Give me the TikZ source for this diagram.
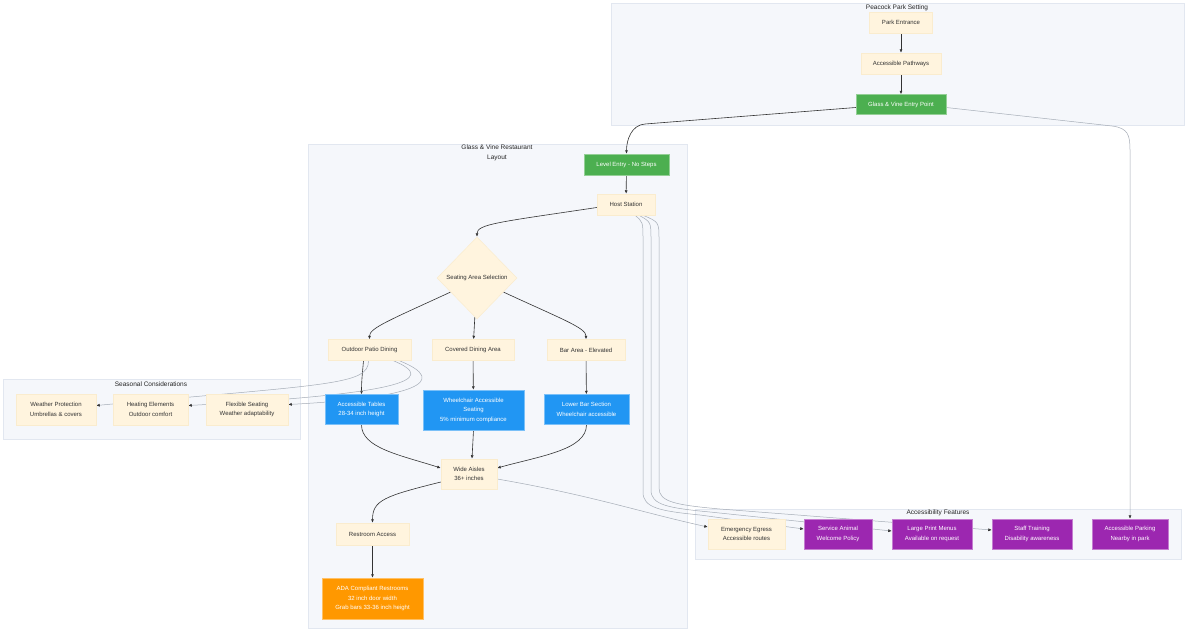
\documentclass[tikz,border=0pt]{standalone}
\usepackage{fontspec}
\setmainfont{Liberation Sans}
\usetikzlibrary{arrows.meta,shapes.geometric,backgrounds}
\definecolor{ParkCream}{RGB}{255,244,222}
\definecolor{ParkCreamLine}{RGB}{250,236,206}
\definecolor{ParkGreen}{RGB}{76,175,80}
\definecolor{ParkBlue}{RGB}{33,150,243}
\definecolor{ParkOrange}{RGB}{255,152,0}
\definecolor{ParkPurple}{RGB}{156,39,176}
\definecolor{ParkPanel}{RGB}{245,247,251}
\definecolor{ParkPanelLine}{RGB}{226,231,240}
\definecolor{ParkInk}{RGB}{51,51,51}
\definecolor{ParkGrey}{RGB}{165,172,182}
\pgfdeclarelayer{edgelayer}
\pgfsetlayers{background,edgelayer,main}

\begin{document}
\begin{tikzpicture}[x=1pt,y=-1pt]
  \tikzset{box/.style={rectangle,inner sep=0pt,align=center,line width=0.5pt,font=\fontsize{6}{9.5}\selectfont},
    wh/.style 2 args={minimum width=#1,minimum height=#2},
    cream/.style={box,fill=ParkCream,draw=ParkCreamLine,text=ParkInk},
    greenbox/.style={box,fill=ParkGreen,draw=ParkGreen!60!white,text=white},
    bluebox/.style={box,fill=ParkBlue,draw=ParkBlue!60!white,text=white},
    orangebox/.style={box,fill=ParkOrange,draw=ParkOrange!60!white,text=white},
    purplebox/.style={box,fill=ParkPurple,draw=ParkPurple!60!white,text=white},
    panel/.style={fill=ParkPanel,draw=ParkPanelLine,line width=0.4pt},
    paneltitle/.style={inner sep=0pt,align=center,text=black!85,font=\fontsize{6.5}{10}\selectfont},
    flow/.style={draw=ParkInk,line width=0.6pt,-{Latex[length=3.5pt,width=3pt]}},
    soft/.style={draw=ParkGrey,line width=0.5pt,-{Latex[length=3.5pt,width=3pt,color=ParkInk]}}}

  % page and groups
  \begin{pgfonlayer}{background}
    \path[use as bounding box,fill=white] (0,0) rectangle (1200,638);
    \draw[panel] (611,3) rectangle (1184,125);
    \draw[panel] (308,144) rectangle (687,628);
    \draw[panel] (3,379) rectangle (300,439);
    \draw[panel] (695,509) rectangle (1181,559);
  \end{pgfonlayer}
  \node[paneltitle] (parkT) at (897,7.5) {Peacock Park Setting};
  \node[paneltitle] (restT) at (497,153) {Glass \& Vine Restaurant\\Layout};
  \node[paneltitle] (seasT) at (151,384) {Seasonal Considerations};
  \node[paneltitle] (featT) at (938,513) {Accessibility Features};

  % park
  \node[cream,wh={63pt}{21pt}] (entrance) at (901,22.5) {Park Entrance};
  \node[cream,wh={80pt}{21pt}] (pathways) at (901,63.5) {Accessible Pathways};
  \node[greenbox,wh={90pt}{20pt}] (gventry) at (901,104.5) {Glass \& Vine Entry Point};

  % restaurant
  \node[greenbox,wh={85pt}{21pt}] (level) at (626.5,164.5) {Level Entry - No Steps};
  \node[cream,wh={58pt}{21pt}] (host) at (626,204.5) {Host Station};
  \node[cream,diamond,wh={80pt}{82pt},inner sep=1pt] (select) at (477,278) {Seating Area Selection};
  \node[cream,wh={83pt}{21pt}] (patio) at (369.5,350) {Outdoor Patio Dining};
  \node[cream,wh={82pt}{21pt}] (covered) at (473,350) {Covered Dining Area};
  \node[cream,wh={78pt}{21pt}] (bar) at (586,350) {Bar Area - Elevated};
  \node[bluebox,wh={73pt}{30pt}] (tables) at (361.5,409.5) {Accessible Tables\\28-34 inch height};
  \node[bluebox,wh={101pt}{40pt}] (wheel) at (473.5,410) {Wheelchair Accessible\\Seating\\5\% minimum compliance};
  \node[bluebox,wh={85pt}{30pt}] (lowbar) at (586.5,409.5) {Lower Bar Section\\Wheelchair accessible};
  \node[cream,wh={56pt}{30pt}] (aisles) at (469,474) {Wide Aisles\\36+ inches};
  \node[cream,wh={73pt}{22pt}] (restroom) at (372.5,534) {Restroom Access};
  \node[orangebox,wh={101pt}{41pt}] (ada) at (372.5,598.5) {ADA Compliant Restrooms\\32 inch door width\\Grab bars 33-36 inch height};

  % seasonal
  \node[cream,wh={80pt}{31pt}] (weather) at (56,409.5) {Weather Protection\\Umbrellas \& covers};
  \node[cream,wh={75pt}{31pt}] (heating) at (150.5,409.5) {Heating Elements\\Outdoor comfort};
  \node[cream,wh={82pt}{31pt}] (flexible) at (247,409.5) {Flexible Seating\\Weather adaptability};

  % features
  \node[cream,wh={77pt}{30pt}] (egress) at (746.5,534) {Emergency Egress\\Accessible routes};
  \node[purplebox,wh={68pt}{30pt}] (animal) at (838,534) {Service Animal\\Welcome Policy};
  \node[purplebox,wh={80pt}{30pt}] (menus) at (932,534) {Large Print Menus\\Available on request};
  \node[purplebox,wh={80pt}{30pt}] (training) at (1032,534) {Staff Training\\Disability awareness};
  \node[purplebox,wh={76pt}{30pt}] (parking) at (1130,534) {Accessible Parking\\Nearby in park};

  \begin{pgfonlayer}{edgelayer}
    \foreach \x/\y in {entrance/pathways,pathways/gventry,level/host,select/covered,covered/wheel,bar/lowbar,restroom/ada}{\draw[flow] (\x) -- (\y);}
    \draw[flow] ([yshift=-3pt]gventry.west) -- (645,124) to[out=184,in=90] (level.north);
    \draw[flow] ([yshift=-3pt]host.west) .. controls (500,222) and (477,224) .. (select.north);
    \draw[flow] (select.-152) .. controls (390,320) and (369.5,328) .. (patio.north);
    \draw[flow] (select.-28) .. controls (564,320) and (586,328) .. (bar.north);
    \draw[flow] ([xshift=-6pt]patio.south) to[out=-95,in=90] (tables.north);
    \draw[flow] (tables.south) .. controls (361.5,448) and (400,455) .. ([yshift=6pt]aisles.west);
    \draw[flow] (wheel.south) -- ([xshift=3pt]aisles.north);
    \draw[flow] (lowbar.south) .. controls (586.5,450) and (540,456) .. ([yshift=6pt]aisles.east);
    \draw[flow] ([yshift=-8pt]aisles.west) .. controls (385,496) and (372.5,500) .. (restroom.north);
    % grey links
    \draw[soft] ([yshift=-3pt]gventry.east) -- (1112,126) .. controls (1128,128) and (1130,135) .. (1130,150) -- (parking.north);
    \draw[soft] ([xshift=-1pt]patio.south) .. controls (368.5,385) and (330,384) .. ([yshift=4pt]weather.east);
    \draw[soft] ([xshift=24pt]patio.south) .. controls (440,380) and (400,394) .. ([yshift=4pt]heating.east);
    \draw[soft] ([xshift=30pt]patio.south) .. controls (452,382) and (412,398) .. ([yshift=5pt]flexible.east);
    \draw[soft] ([yshift=-5pt]aisles.east) .. controls (590,495) and (640,512) .. ([yshift=7pt]egress.west);
    \draw[soft] ([xshift=9pt]host.south) .. controls (643,222) .. (643,240) -- (643,492) .. controls (643,508) and (660,511) .. (700,515) -- ([yshift=5pt]animal.west);
    \draw[soft] ([xshift=13pt]host.south) .. controls (651,222) .. (651,240) -- (651,490) .. controls (651,505) and (668,508) .. (710,512) -- ([yshift=3pt]menus.west);
    \draw[soft] ([xshift=17pt]host.south) .. controls (659,222) .. (659,240) -- (659,488) .. controls (659,502) and (676,505) .. (720,509) -- ([yshift=4pt]training.west);
  \end{pgfonlayer}
\end{tikzpicture}
\end{document}
